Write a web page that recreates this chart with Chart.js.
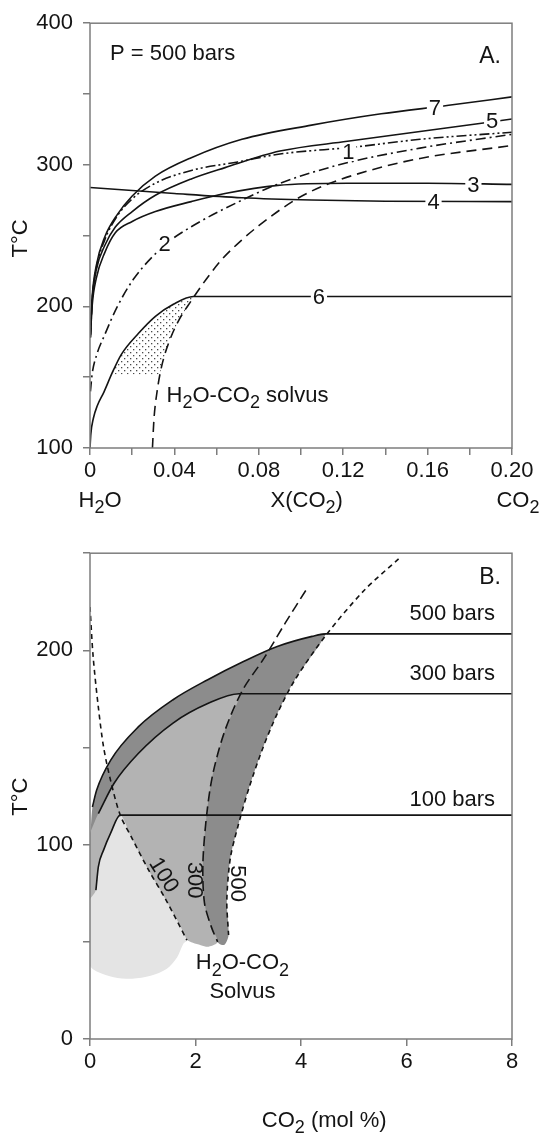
<!DOCTYPE html>
<html><head><meta charset="utf-8">
<script src="https://cdn.jsdelivr.net/npm/chart.js@4.4.0/dist/chart.umd.min.js"></script>
<style>
html,body{margin:0;padding:0;background:#fff;}
#wrap{position:relative;width:544px;height:1136px;overflow:hidden;background:#fff;}
canvas{position:absolute;left:0;}
</style></head><body>
<div id="wrap">
<canvas id="ca" width="544" height="530" style="top:0px"></canvas>
<canvas id="cb" width="544" height="606" style="top:530px"></canvas>
</div>
<script>
// ---------------- Panel A data (X(CO2) vs T°C, P = 500 bars) ----------------
const curve7X = [0.0002,0.001,0.003,0.007,0.013,0.02,0.031,0.048,0.072,0.105,0.138,0.17,0.2];
const curve7T = [180,206,229,249,265,278,292,305,318,328,336,342,348];
const curve5X = [0.0002,0.001,0.003,0.007,0.012,0.02,0.031,0.048,0.064,0.09,0.122,0.1564,0.2];
const curve5T = [180,204,226,243,256,267,278.5,290,298,309.7,316.6,323.5,332.3];
const curve1X = [0.0002,0.001,0.003,0.007,0.013,0.02,0.031,0.048,0.07,0.09,0.125,0.1564,0.2];
const curve1T = [178,203,227,247,264,276,287,296,302,307.6,312.5,318,323];
const curve2X = [0.0002,0.001,0.003,0.007,0.013,0.021,0.036,0.05,0.072,0.09,0.1199,0.1564,0.2];
const curve2T = [140,152,165,180,200,220,244,258,275,286.9,300.7,311.8,321.5];
const curve3X = [0.0002,0.001,0.003,0.007,0.012,0.02,0.031,0.048,0.064,0.089,0.122,0.16,0.2];
const curve3T = [178,200,220,238,252,260,267,274,279.7,285.5,287,287,286.2];
const curve4X = [0,0.04,0.072,0.105,0.14,0.2];
const curve4T = [284,279.7,276.7,275.1,274.3,274];
const curve6X = [0,0.0004,0.0016,0.0035,0.0066,0.0105,0.0148,0.023,0.031,0.0395,0.049,0.2];
const curve6T = [100,110,121,130,139.5,153,166,181,193,201.5,207,207];
const solvusAX = [0.0296,0.0303,0.0318,0.034,0.0375,0.042,0.048,0.055,0.0624,0.072,0.08,0.097,0.1104,0.1313,0.1564,0.2];
const solvusAT = [100,120,140,158,175,190,204,219,233,247,257,275,285,295.5,304.5,313.6];
const stippleX = [0.0102,0.0148,0.023,0.031,0.0395,0.049,0.048,0.042,0.0375,0.034,0.0331];
const stippleT = [152,166,181,193,201.5,207,204,190,175,158,152];
const curveLabelsA = ['7','5','1','3','4','2','6'];
const curveLabelAX = [0.1635,0.1906,0.1224,0.1817,0.1628,0.0354,0.1085];
const curveLabelAT = [340,331,309,285.5,274,244,207];
const xTicksA = [0,0.04,0.08,0.12,0.16,0.20];
const yTicksA = [100,200,300,400];

// ---------------- Panel B data (CO2 mol % vs T°C) ----------------
const bar500X = [0.046,0.125,0.39,0.915,1.574,2.232,2.89,3.55,4.21,4.47,8];
const bar500T = [119.4,128,143.4,160.6,174.6,184.9,194,202,207.2,208.5,208.5];
const bar300X = [0.158,0.454,0.915,1.574,2.232,2.825,8];
const bar300T = [116,131.5,146.9,162.6,172.6,177.7,177.7];
const bar100X = [0.112,0.158,0.257,0.389,0.573,8];
const bar100T = [76.6,88.6,97.2,105.8,115.2,115.2];
const sol100X = [0,0.06,0.158,0.257,0.389,0.573,0.783,1.112,1.442,1.837];
const sol100T = [222.3,196.6,170.8,150.3,133.2,115.2,104,86.9,71.5,50.9];
const sol300X = [4.09,3.7,3.3,2.89,2.56,2.33,2.21,2.14,2.17,2.3,2.42];
const sol300T = [230.8,214,196,179.4,158.9,136.6,115,90,70,57.7,50];
const sol500X = [5.85,5.195,4.47,3.88,3.55,3.285,3.02,2.8,2.66,2.594,2.627];
const sol500T = [247.1,230.8,207.7,184.6,167.4,150.3,129.7,109,93,71.5,53.5];
const darkEdgeX = [2.55,2.45,2.0,0,0];
const darkEdgeT = [48.5,49,60,60,100];
const mediumEdgeX = [2.25,2.1,1.95,1.837,1.5,0,0];
const mediumEdgeT = [47.5,48.3,49.5,50.9,60,65,106];
const lightBottomX = [1.77,1.65,1.45,1.15,0.8,0.45,0.15,0,0];
const lightBottomT = [49,42,36,32.5,31,31.8,34.5,38,72];
const barLabelsB = ['500 bars','300 bars','100 bars'];
const barLabelBT = [218.6,187.9,122.8];
const isoLabelsB = ['100','300','500'];
const isoLabelBX = [1.39,1.97,2.79];
const isoLabelBT = [84.2,81.7,80];
const isoLabelBRot = [58,90,90];
const xTicksB = [0,2,4,6,8];
const yTicksB = [0,100,200];

// ---------------- styling ----------------
const FONT = "'Liberation Sans', Arial, Helvetica, sans-serif";
const FS = 22;
const INK = '#141414';
const FRAME = '#7d7d7d';
const DARK = '#8c8c8c', MED = '#b3b3b3', LIGHT = '#e4e4e4';

function pts(xs, ts){ return xs.map((x,i)=>({x:x, y:ts[i]})); }

function parseRich(s){
  const parts=[]; let buf='';
  for(let i=0;i<s.length;i++){
    if(s[i]==='_'){ if(buf){parts.push([buf,false]); buf='';} parts.push([s[i+1],true]); i++; }
    else buf+=s[i];
  }
  if(buf) parts.push([buf,false]);
  return parts;
}
function drawRich(ctx, s, x, y, size, align){
  const parts=parseRich(s); const ss=Math.round(size*0.8);
  let w=0;
  parts.forEach(p=>{ ctx.font=(p[1]?ss:size)+'px '+FONT; w+=ctx.measureText(p[0]).width; });
  let sx = align==='center' ? x-w/2 : (align==='right' ? x-w : x);
  ctx.textAlign='left'; ctx.textBaseline='middle'; ctx.fillStyle=INK;
  parts.forEach(p=>{
    ctx.font=(p[1]?ss:size)+'px '+FONT;
    ctx.fillText(p[0], sx, y + (p[1]? size*0.33 : 0));
    sx += ctx.measureText(p[0]).width;
  });
  return w;
}
function drawFrame(chart){
  const {ctx, chartArea:a} = chart;
  ctx.save(); ctx.strokeStyle=FRAME; ctx.lineWidth=1.5;
  ctx.strokeRect(a.left, a.top, a.right-a.left, a.bottom-a.top);
  ctx.restore();
}
function stipplePattern(){
  const c=document.createElement('canvas'); c.width=6; c.height=6;
  const g=c.getContext('2d'); g.fillStyle='#4a4a4a';
  g.fillRect(1,1,1.3,1.3); g.fillRect(4,4,1.3,1.3);
  return g.createPattern(c,'repeat');
}
function line(data, opts){
  return Object.assign({data:data, showLine:true, pointRadius:0, borderColor:INK, borderWidth:1.6,
    backgroundColor:'rgba(0,0,0,0)', fill:false, tension:0}, opts||{});
}
function commonScales(xmin,xmax,xstep,ymin,ymax,ystep,xLab,yLab,xh){
  return {
    x:{type:'linear', min:xmin, max:xmax, position:'bottom',
      afterBuildTicks(s){ s.ticks=[]; for(let v=xmin; v<=xmax+1e-9; v+=xstep) s.ticks.push({value:+v.toFixed(6)}); },
      afterFit(s){ s.height=xh; },
      border:{display:false},
      grid:{display:true, drawOnChartArea:false, drawTicks:true, tickLength:7, color:FRAME, lineWidth:1.5},
      ticks:{color:INK, font:{family:FONT, size:FS}, padding:3, maxRotation:0, autoSkip:false,
        callback:(v)=>{ const f=xLab.find(t=>Math.abs(t-v)<1e-9); return f===undefined? '' : (f===0?'0':(xmax<1? f.toFixed(2): String(f))); }}
    },
    y:{type:'linear', min:ymin, max:ymax, position:'left',
      afterBuildTicks(s){ s.ticks=[]; for(let v=ymin; v<=ymax+1e-9; v+=ystep) s.ticks.push({value:v}); },
      afterFit(s){ s.width=90; },
      border:{display:false},
      grid:{display:true, drawOnChartArea:false, drawTicks:true, tickLength:7, color:FRAME, lineWidth:1.5},
      ticks:{color:INK, font:{family:FONT, size:FS}, padding:10, autoSkip:false,
        callback:(v)=> yLab.includes(v)? String(v) : ''}
    }
  };
}

// ---------------- Chart A ----------------
const decoA = {
  id:'decoA',
  afterDraw(chart){
    const {ctx, chartArea:a, scales:{x,y}} = chart;
    ctx.save();
    ctx.font=FS+'px '+FONT;
    curveLabelsA.forEach((t,i)=>{
      const px=x.getPixelForValue(curveLabelAX[i]), py=y.getPixelForValue(curveLabelAT[i]);
      const w=ctx.measureText(t).width;
      ctx.fillStyle='#fff'; ctx.fillRect(px-w/2-2, py-9, w+4, 18);
      ctx.fillStyle=INK; ctx.textAlign='center'; ctx.textBaseline='middle';
      ctx.fillText(t, px, py+1);
    });
    drawFrame(chart);
    drawRich(ctx,'P = 500 bars', a.left+20, a.top+31, FS, 'left');
    drawRich(ctx,'A.', a.right-11, a.top+33, 23, 'right');
    drawRich(ctx,'H_2O-CO_2 solvus', x.getPixelForValue(0.0363), y.getPixelForValue(137), FS, 'left');
    const ly = a.bottom + 53;
    drawRich(ctx,'H_2O', a.left+10, ly, FS, 'center');
    drawRich(ctx,'X(CO_2)', x.getPixelForValue(0.1027), ly, FS, 'center');
    drawRich(ctx,'CO_2', x.getPixelForValue(0.1926), ly, FS, 'left');
    ctx.save(); ctx.translate(21, y.getPixelForValue(248)); ctx.rotate(-Math.PI/2);
    drawRich(ctx,'T°C', 0, 0, FS, 'center'); ctx.restore();
    ctx.restore();
  }
};

const dsA = [
  line(pts(stippleX, stippleT), {fill:'shape', backgroundColor:stipplePattern(), borderWidth:0, borderColor:'rgba(0,0,0,0)', order:10}),
  line(pts(curve7X, curve7T), {cubicInterpolationMode:'monotone', order:1}),
  line(pts(curve5X, curve5T), {cubicInterpolationMode:'monotone', order:1}),
  line(pts(curve1X, curve1T), {cubicInterpolationMode:'monotone', borderDash:[10,3,2,3,2,3], order:1}),
  line(pts(curve2X, curve2T), {cubicInterpolationMode:'monotone', borderDash:[10,4,2,4], order:1}),
  line(pts(curve3X, curve3T), {cubicInterpolationMode:'monotone', order:1}),
  line(pts(curve4X, curve4T), {cubicInterpolationMode:'monotone', order:1}),
  line(pts(curve6X, curve6T), {cubicInterpolationMode:'monotone', order:1}),
  line(pts(solvusAX, solvusAT), {cubicInterpolationMode:'monotone', borderDash:[10,6], order:1})
];

new Chart(document.getElementById('ca'), {
  type:'scatter',
  data:{datasets:dsA},
  options:{
    responsive:false, animation:false, devicePixelRatio:1,
    layout:{padding:{top:15, right:32, left:0, bottom:0}},
    plugins:{legend:{display:false}, tooltip:{enabled:false}},
    scales:commonScales(0,0.2,0.02,100,400,50,xTicksA,yTicksA,82)
  },
  plugins:[decoA]
});

// ---------------- Chart B ----------------
const decoB = {
  id:'decoB',
  afterDraw(chart){
    const {ctx, chartArea:a, scales:{x,y}} = chart;
    ctx.save();
    drawFrame(chart);
    drawRich(ctx,'B.', a.right-11, y.getPixelForValue(237.2), 23, 'right');
    barLabelsB.forEach((t,i)=>{ drawRich(ctx, t, x.getPixelForValue(7.68), y.getPixelForValue(barLabelBT[i]), FS, 'right'); });
    isoLabelsB.forEach((t,i)=>{
      ctx.save(); ctx.translate(x.getPixelForValue(isoLabelBX[i]), y.getPixelForValue(isoLabelBT[i]));
      ctx.rotate(isoLabelBRot[i]*Math.PI/180);
      drawRich(ctx, t, 0, 0, FS, 'center'); ctx.restore();
    });
    drawRich(ctx,'H_2O-CO_2', x.getPixelForValue(2.89), y.getPixelForValue(38.9), FS, 'center');
    drawRich(ctx,'Solvus', x.getPixelForValue(2.89), y.getPixelForValue(24.3), FS, 'center');
    drawRich(ctx,'CO_2 (mol %)', x.getPixelForValue(4.44), a.bottom+82, FS, 'center');
    ctx.save(); ctx.translate(21, y.getPixelForValue(124.7)); ctx.rotate(-Math.PI/2);
    drawRich(ctx,'T°C', 0, 0, FS, 'center'); ctx.restore();
    ctx.restore();
  }
};

const darkPoly = pts([0].concat(bar500X.slice(0,10), sol500X.slice(3), darkEdgeX),
                     [100].concat(bar500T.slice(0,10), sol500T.slice(3), darkEdgeT));
const medPoly = pts([0].concat(bar300X.slice(0,6), sol300X.slice(4), mediumEdgeX),
                    [106].concat(bar300T.slice(0,6), sol300T.slice(4), mediumEdgeT));
const lightPoly = pts([0].concat(bar100X.slice(0,5), sol100X.slice(6), lightBottomX),
                      [72].concat(bar100T.slice(0,5), sol100T.slice(6), lightBottomT));

const dsB = [
  line(darkPoly, {fill:'shape', backgroundColor:DARK, borderWidth:0, borderColor:'rgba(0,0,0,0)', tension:0.3, order:12}),
  line(medPoly, {fill:'shape', backgroundColor:MED, borderWidth:0, borderColor:'rgba(0,0,0,0)', tension:0.3, order:11}),
  line(lightPoly, {fill:'shape', backgroundColor:LIGHT, borderWidth:0, borderColor:'rgba(0,0,0,0)', tension:0.3, order:10}),
  line(pts(bar500X, bar500T), {cubicInterpolationMode:'monotone', order:1}),
  line(pts(bar300X, bar300T), {cubicInterpolationMode:'monotone', order:1}),
  line(pts(bar100X, bar100T), {cubicInterpolationMode:'monotone', order:1}),
  line(pts(sol100X, sol100T), {tension:0.3, borderDash:[5,4], order:1}),
  line(pts(sol300X, sol300T), {tension:0.3, borderDash:[10,5], order:1}),
  line(pts(sol500X, sol500T), {tension:0.3, borderDash:[5,4], order:1})
];

new Chart(document.getElementById('cb'), {
  type:'scatter',
  data:{datasets:dsB},
  options:{
    responsive:false, animation:false, devicePixelRatio:1,
    layout:{padding:{top:23, right:32, left:0, bottom:0}},
    plugins:{legend:{display:false}, tooltip:{enabled:false}},
    scales:commonScales(0,8,2,0,250,50,xTicksB,yTicksB,97)
  },
  plugins:[decoB]
});
</script>
</body></html>
